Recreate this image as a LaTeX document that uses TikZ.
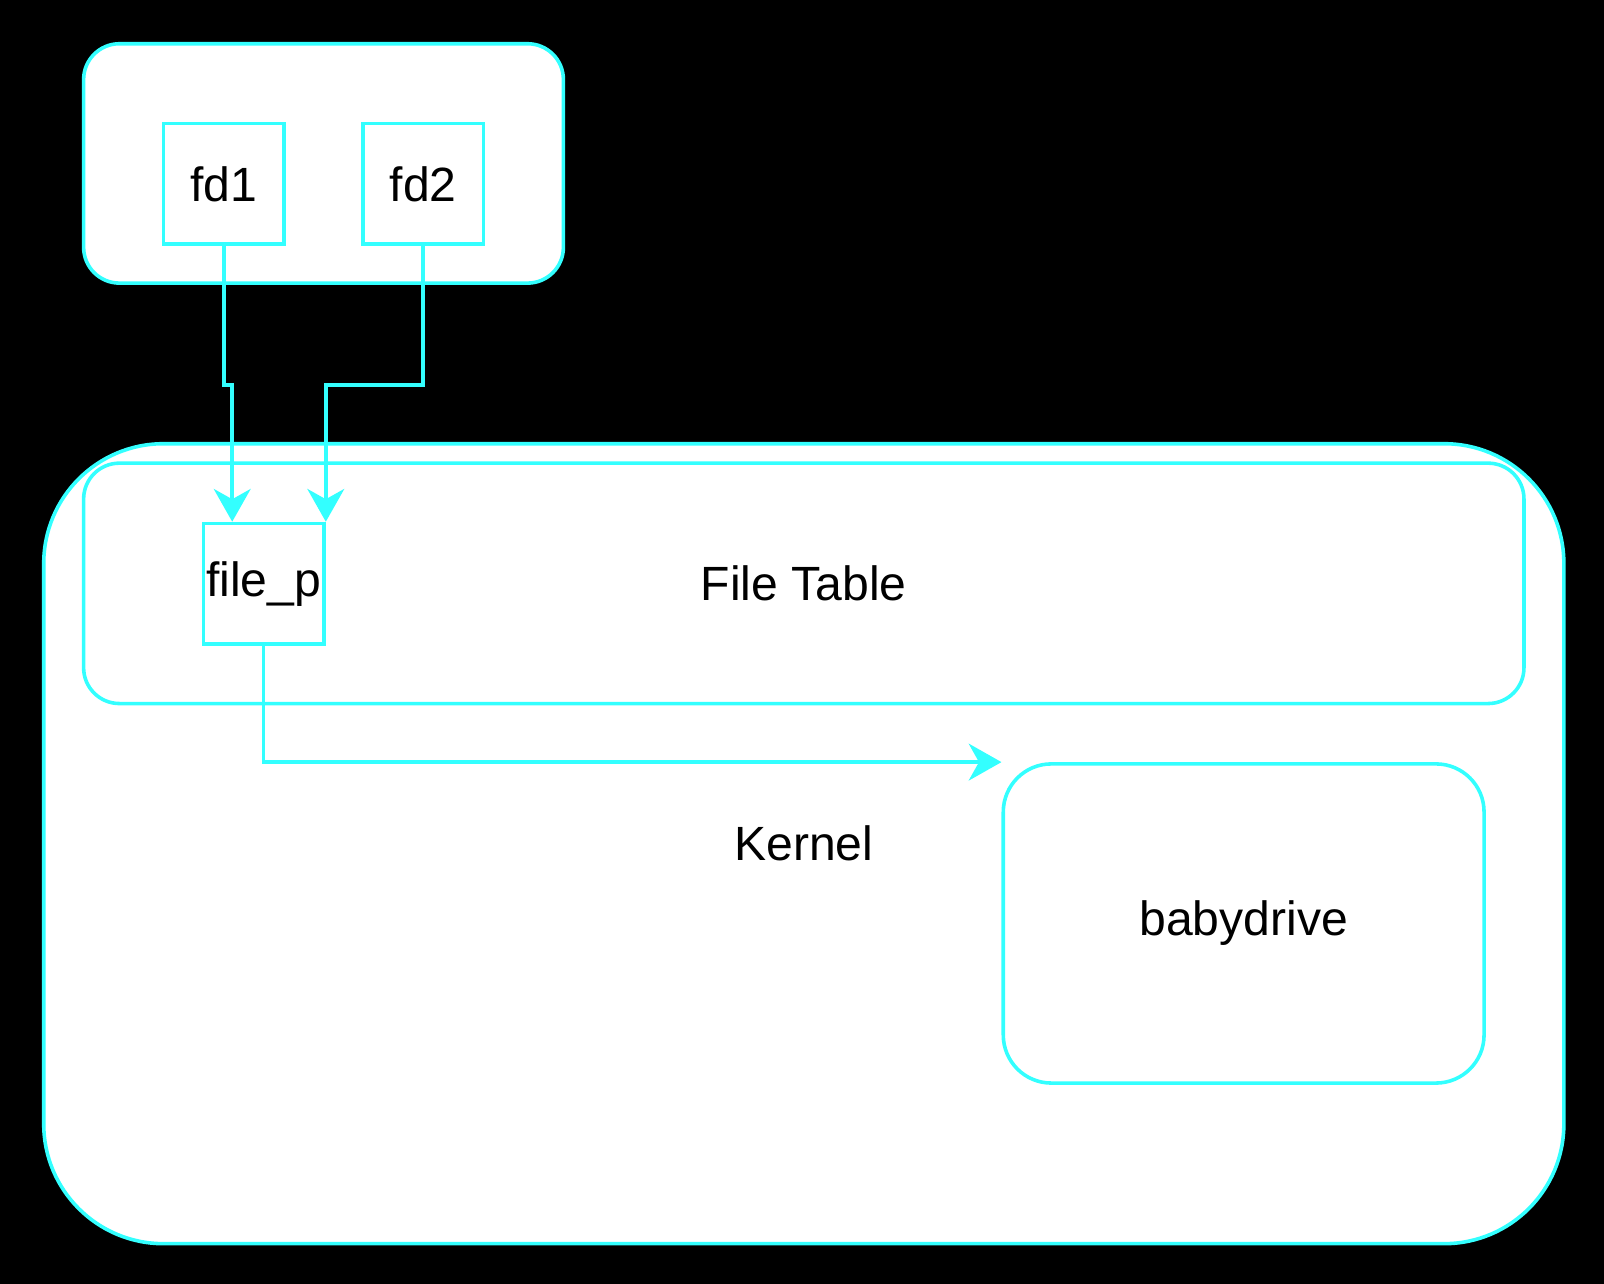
\documentclass[tikz,border=0pt]{standalone}
\usepackage{fontspec}
\setmainfont{Liberation Sans}
\usetikzlibrary{arrows.meta,calc}
\definecolor{cy}{HTML}{33FFFF}
\begin{document}
\begin{tikzpicture}[x=1pt,y=-1pt,
  every node/.style={font=\fontsize{47}{56}\selectfont, text=black},
  box/.style={draw=cy, line width=3.5pt, fill=white, inner sep=0pt, anchor=north west},
  arr/.style={draw=cy, line width=3.5pt, -{Stealth[length=32pt,width=36pt,inset=10pt]}}]
\fill[black] (0,0) rectangle (1568,1255);
\useasboundingbox (0,0) rectangle (1568,1255);
% kernel
\node[box, rounded corners=117pt, minimum width=1486pt, minimum height=782pt] (kern) at (41,432) {Kernel};
\node[box, rounded corners=35pt, minimum width=1408pt, minimum height=235pt] (ft) at (80,451) {File Table};
\node[box, rounded corners=47pt, minimum width=470pt, minimum height=312pt] (bd) at (979,745) {babydrive};
\node[box, minimum width=118pt, minimum height=118pt] (fp) at (197,510) {file\_p};
% user space
\node[box, rounded corners=35pt, minimum width=469pt, minimum height=234pt] (us) at (80,41) {};
\node[box, minimum width=118pt, minimum height=118pt] (fd1) at (158,119) {fd1};
\node[box, minimum width=118pt, minimum height=118pt] (fd2) at (353,119) {fd2};
% connectors
\draw[arr] (fd1.south) -- ++(0,136) -| ([xshift=30pt]fp.north west);
\draw[arr] (fd2.south) -- ++(0,136) -| (fp.north east);
\draw[arr] (fp.south) |- (bd.north west);
\end{tikzpicture}
\end{document}
